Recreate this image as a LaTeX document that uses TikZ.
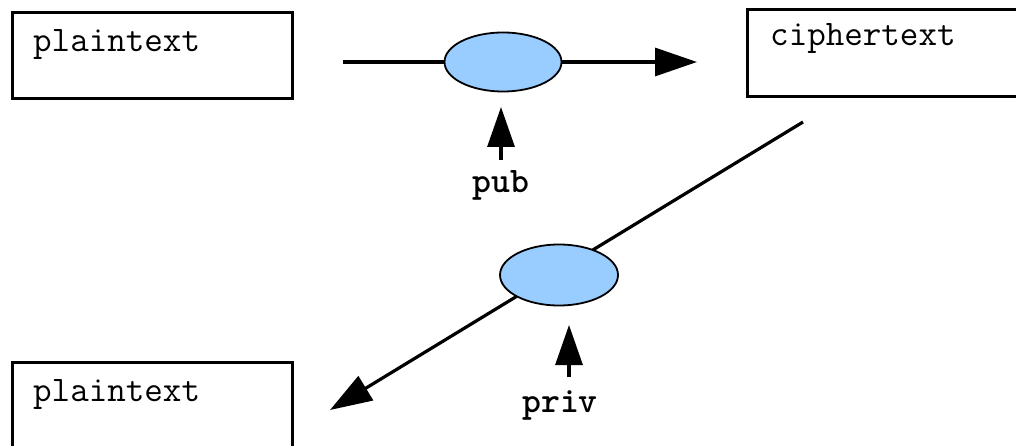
\documentclass[tikz,border=0pt]{standalone}
\usepackage{fontspec}
\usetikzlibrary{arrows.meta,shapes.geometric}
\definecolor{keyblue}{HTML}{99CCFF}
\tikzset{
  box/.style={draw=black, line width=3pt, inner sep=0pt},
  label text/.style={font=\fontsize{36}{40}\selectfont\ttfamily, inner sep=0pt, anchor=base west},
  key text/.style={font=\fontsize{36}{40}\selectfont\ttfamily\bfseries, inner sep=0pt, anchor=base},
  keyoval/.style={ellipse, draw=black, line width=1.8pt, fill=keyblue, inner sep=0pt},
  flow/.style={line width=3.2pt, -{Triangle[length=42pt,width=28pt]}},
  keyarrow/.style={line width=3.2pt, -{Triangle[length=40pt,width=27pt]}}
}
\begin{document}
\begin{tikzpicture}[x=1pt,y=-1pt]
\useasboundingbox (0,0) rectangle (1016,446);

% text boxes
\draw[box] (12,13) rectangle (292,99);
\node[label text] (plain1) at (33,52) {plaintext};
\draw[box] (747,10) rectangle (1030,97);
\node[label text] (cipher) at (770,46) {ciphertext};
\draw[box] (12,362) rectangle (292,470);
\node[label text] (plain2) at (33,401) {plaintext};

% encryption path
\coordinate (h0) at (343,62);
\coordinate (h1) at (697,62);
\draw[flow] (h0) -- (h1);
\node[keyoval, minimum width=117pt, minimum height=59pt] (enc) at (503,62) {};

% decryption path
\coordinate (d0) at (803,122);
\coordinate (d1) at (330,410);
\draw[flow] (d0) -- (d1);
\node[keyoval, minimum width=118pt, minimum height=61pt] (dec) at (559,275) {};

% keys
\node[key text] (pub) at (501,193) {pub};
\coordinate (pubtail) at (501,160);
\coordinate (pubtip) at (501,107);
\draw[keyarrow] (pubtail) -- (pubtip);

\node[key text] (priv) at (560,412) {priv};
\coordinate (privtail) at (569,377);
\coordinate (privtip) at (569,325);
\draw[keyarrow] (privtail) -- (privtip);
\end{tikzpicture}
\end{document}
